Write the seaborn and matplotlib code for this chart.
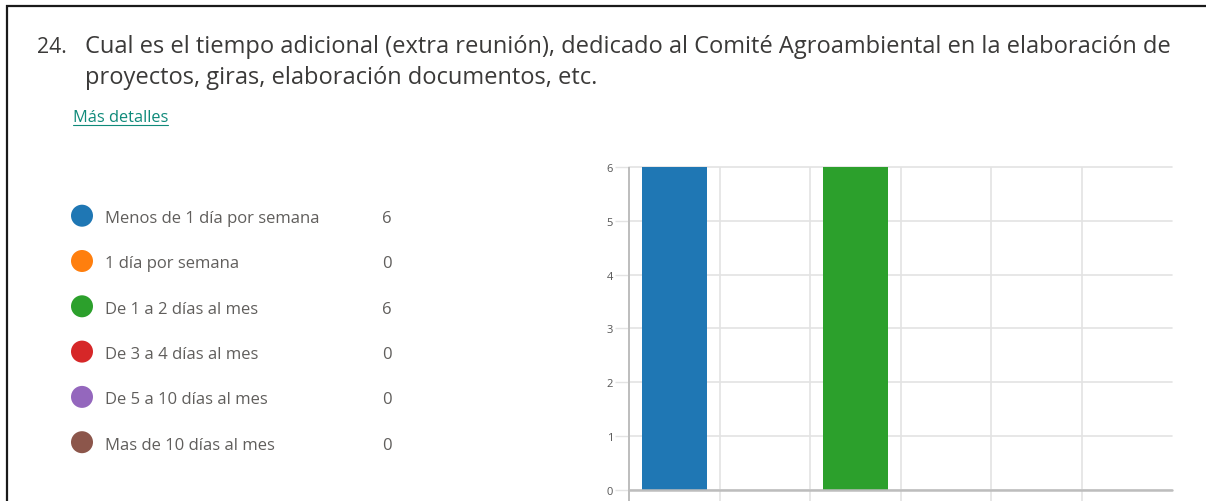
import matplotlib
matplotlib.use("Agg")
import matplotlib.pyplot as plt
import seaborn as sns
import pandas as pd

# ---------------- data ----------------
title_num = "24."
title_lines = [
    "Cual es el tiempo adicional (extra reunión), dedicado al Comité Agroambiental en la elaboración de",
    "proyectos, giras, elaboración documentos, etc.",
]
link_text = "Más detalles"
categories = [
    "Menos de 1 día por semana",
    "1 día por semana",
    "De 1 a 2 días al mes",
    "De 3 a 4 días al mes",
    "De 5 a 10 días al mes",
    "Mas de 10 días al mes",
]
counts = [6, 0, 6, 0, 0, 0]
colors = ["#1f77b4", "#ff7f0e", "#2ca02c", "#d62728", "#9467bd", "#8c564b"]
yticks = [0, 1, 2, 3, 4, 5, 6]

# ---------------- style ----------------
sns.set_theme(style="white")
plt.rcParams['font.family'] = ['Open Sans', 'DejaVu Sans']

W, H = 1206, 502
fig = plt.figure(figsize=(W / 100, H / 100), dpi=100)
fig.patch.set_facecolor("white")

# overlay axes in pixel coordinates for text / frame
ov = fig.add_axes([0, 0, 1, 1])
ov.set_xlim(0, W)
ov.set_ylim(H, 0)
ov.axis("off")
ov.set_zorder(0)

renderer = fig.canvas.get_renderer()


def fit_text(x, y, s, width, size0=12, **kw):
    t = ov.text(x, y, s, fontsize=size0, **kw)
    bb = t.get_window_extent(renderer=renderer)
    t.set_fontsize(size0 * width / bb.width)
    return t


# frame lines (top and left)
ov.plot([6, W], [7, 7], color="#1a1a1a", lw=1.6, solid_capstyle="butt")
ov.plot([7, 7], [6, H], color="#1a1a1a", lw=1.6, solid_capstyle="butt")

# title
title_color = "#3b3a39"
fit_text(36.5, 52.7, title_num, 30, color=title_color, va="baseline")
t1 = fit_text(85, 52.7, title_lines[0], 1082, color=title_color, va="baseline")
ov.text(85, 84, title_lines[1], fontsize=t1.get_fontsize(), color=title_color, va="baseline")

# link
lk = fit_text(73, 121.5, link_text, 95, color="#0f8a7a", va="baseline")
ov.plot([73, 168], [126, 126], color="#0f8a7a", lw=0.8)

# legend
leg_y0, leg_dy = 216.7, 45.3
label_color = "#605e5c"
lab_size = None
for i, (lab, c, n) in enumerate(zip(categories, colors, counts)):
    y = leg_y0 + i * leg_dy
    ov.scatter([82], [y], s=(22 * 0.72) ** 2, color=c, edgecolors="none")
    if lab_size is None:
        tt = fit_text(105, y + 6.5, lab, 214, color=label_color, va="baseline")
        lab_size = tt.get_fontsize()
    else:
        ov.text(105, y + 6.5, lab, fontsize=lab_size, color=label_color, va="baseline")
    ov.text(387, y + 6.5, str(n), fontsize=lab_size, color=label_color, va="baseline", ha="center")

# ---------------- bar chart ----------------
x0, x1 = 629, 1172
y_top = 168
y_zero = 490.7
ymax = 6
ybot = -(H - y_zero) / (y_zero - y_top) * ymax
ax = fig.add_axes([x0 / W, 0, (x1 - x0) / W, (H - y_top) / H])
ax.set_zorder(1)
ax.patch.set_alpha(0)

df = pd.DataFrame({"cat": categories, "n": counts})
sns.barplot(data=df, x="cat", y="n", hue="cat", palette=colors, order=categories,
            hue_order=categories, width=0.72, dodge=False, legend=False, ax=ax,
            linewidth=0, saturation=1, zorder=3)

ax.set_xlim(-0.5, len(categories) - 0.5)
ax.set_ylim(ybot, ymax)
ax.set_xlabel("")
ax.set_ylabel("")
ax.set_xticks([])
ax.set_yticks(yticks)
ax.set_yticklabels([str(v) for v in yticks])
for s in ax.spines.values():
    s.set_visible(False)

grid_c = "#e3e3e3"
axis_c = "#bdbdbd"
for v in yticks:
    ax.axhline(v, color=grid_c, lw=1.2, zorder=1, clip_on=False)
for b in [i + 0.5 for i in range(len(categories) - 1)]:
    ax.vlines(b, ybot, ymax, color=grid_c, lw=1.2, zorder=1, clip_on=False)
ax.vlines(-0.5, ybot, ymax, color=axis_c, lw=1.4, zorder=4, clip_on=False)
ax.axhline(0, color=axis_c, lw=1.8, zorder=4, clip_on=False)

ax.tick_params(axis="y", length=14 * 0.72, width=1.0, color=grid_c, pad=1.5,
               labelsize=8, labelcolor="#555555", left=True)

fig.savefig("out.png", dpi=100, facecolor="white")
